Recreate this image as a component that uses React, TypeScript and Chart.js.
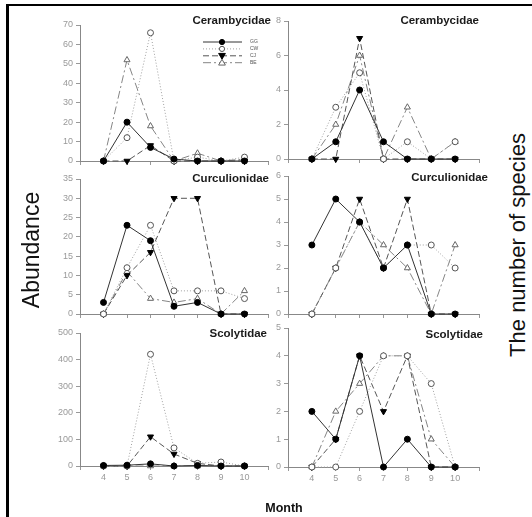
import React, { useEffect, useRef } from 'react';
import { Chart, registerables } from 'chart.js';
Chart.register(...registerables);

// ---------- data ----------
const months = [4, 5, 6, 7, 8, 9, 10];
const seriesNames = ['GG', 'CW', 'CJ', 'BE'];

// Abundance
const ceramAbGG = [0, 20, 7, 1, 0, 0, 0];
const ceramAbCW = [0, 12, 66, 0, 2, 0, 2];
const ceramAbCJ = [0, 0, 8, 0, 0, 0, 0];
const ceramAbBE = [0, 52, 18, 0, 4, 0, 1];

const curcAbGG = [3, 23, 19, 2, 3, 0, 0];
const curcAbCW = [0, 12, 23, 6, 6, 6, 4];
const curcAbCJ = [0, 10, 16, 30, 30, 0, 0];
const curcAbBE = [0, 11, 4, 3, 4, 0, 6];

const scolAbGG = [2, 3, 8, 0, 2, 0, 0];
const scolAbCW = [0, 0, 420, 68, 10, 15, 0];
const scolAbCJ = [0, 0, 110, 45, 10, 0, 0];
const scolAbBE = [0, 0, 0, 0, 0, 0, 0];

// Number of species
const ceramSpGG = [0, 1, 4, 1, 0, 0, 0];
const ceramSpCW = [0, 3, 5, 0, 1, 0, 1];
const ceramSpCJ = [0, 0, 7, 0, 0, 0, 0];
const ceramSpBE = [0, 2, 6, 0, 3, 0, 1];

const curcSpGG = [3, 5, 4, 2, 3, 0, 0];
const curcSpCW = [0, 2, 4, 2, 3, 3, 2];
const curcSpCJ = [0, 2, 5, 2, 5, 0, 0];
const curcSpBE = [0, 2, 4, 3, 2, 0, 3];

const scolSpGG = [2, 1, 4, 0, 1, 0, 0];
const scolSpCW = [0, 0, 2, 4, 4, 3, 0];
const scolSpCJ = [0, 1, 4, 2, 4, 0, 0];
const scolSpBE = [0, 2, 3, 4, 4, 1, 0];

// axis maxima / steps
const yMaxes = [70, 8, 35, 6, 500, 5];
const ySteps = [10, 2, 5, 1, 100, 1];
const xMin = 3;
const xMax = 11;

const titles = ['Cerambycidae', 'Cerambycidae', 'Curculionidae', 'Curculionidae', 'Scolytidae', 'Scolytidae'];

// ---------- layout ----------
const FONT = '"Liberation Sans", Arial, sans-serif';
const YW = 30;
const PT = 12;
const PR = 14;
const XH = 22;

const panelBoxes = [
  { x0: 80, x1: 268, y0: 25, y1: 161, tr: 271, ty: 21 },
  { x0: 288, x1: 479, y0: 21, y1: 159, tr: 479, ty: 21 },
  { x0: 80, x1: 268, y0: 179, y1: 314, tr: 269, ty: 179 },
  { x0: 288, x1: 479, y0: 176, y1: 314, tr: 488, ty: 178 },
  { x0: 80, x1: 268, y0: 333, y1: 466, tr: 267, ty: 334 },
  { x0: 288, x1: 479, y0: 328, y1: 467, tr: 483, ty: 335 },
];

const panelSeries = [
  [ceramAbGG, ceramAbCW, ceramAbCJ, ceramAbBE],
  [ceramSpGG, ceramSpCW, ceramSpCJ, ceramSpBE],
  [curcAbGG, curcAbCW, curcAbCJ, curcAbBE],
  [curcSpGG, curcSpCW, curcSpCJ, curcSpBE],
  [scolAbGG, scolAbCW, scolAbCJ, scolAbBE],
  [scolSpGG, scolSpCW, scolSpCJ, scolSpBE],
];

const styles = [
  { borderColor: '#333', borderDash: [] as number[], pointStyle: 'circle', pointRotation: 0, pointBackgroundColor: '#000', pointBorderColor: '#000', pointRadius: 3 },
  { borderColor: '#a0a0a0', borderDash: [1, 2], pointStyle: 'circle', pointRotation: 0, pointBackgroundColor: '#fff', pointBorderColor: '#555', pointRadius: 3 },
  { borderColor: '#555', borderDash: [6, 3], pointStyle: 'triangle', pointRotation: 180, pointBackgroundColor: '#000', pointBorderColor: '#000', pointRadius: 3.5 },
  { borderColor: '#858585', borderDash: [8, 3, 2, 3], pointStyle: 'triangle', pointRotation: 0, pointBackgroundColor: '#fff', pointBorderColor: '#666', pointRadius: 3.5 },
];

function drawMarker(ctx: CanvasRenderingContext2D, i: number, x: number, y: number, r: number) {
  const s = styles[i];
  ctx.save();
  ctx.setLineDash([]);
  ctx.lineWidth = 1;
  ctx.fillStyle = s.pointBackgroundColor;
  ctx.strokeStyle = s.pointBorderColor;
  ctx.beginPath();
  if (s.pointStyle === 'circle') {
    ctx.arc(x, y, r, 0, Math.PI * 2);
  } else {
    const h = r * 1.3;
    const dir = s.pointRotation === 180 ? -1 : 1;
    ctx.moveTo(x, y - dir * h);
    ctx.lineTo(x + h, y + dir * h * 0.7);
    ctx.lineTo(x - h, y + dir * h * 0.7);
    ctx.closePath();
  }
  ctx.fill();
  ctx.stroke();
  ctx.restore();
}

const legendPlugin = {
  id: 'lineLegend',
  afterDatasetsDraw(chart: any, _args: any, opts: any) {
    if (!opts || !opts.show) return;
    const ctx = chart.ctx as CanvasRenderingContext2D;
    const a = chart.chartArea;
    const lx0 = a.left + 123;
    const lx1 = a.left + 162;
    const mx = a.left + 142;
    const tx = a.left + 170;
    seriesNames.forEach((name, i) => {
      const y = a.top + 17 + i * 6.9;
      const s = styles[i];
      ctx.save();
      ctx.strokeStyle = s.borderColor;
      ctx.lineWidth = 1;
      ctx.setLineDash(s.borderDash);
      ctx.beginPath();
      ctx.moveTo(lx0, y);
      ctx.lineTo(lx1, y);
      ctx.stroke();
      ctx.restore();
      drawMarker(ctx, i, mx, y, 2.6);
      ctx.save();
      ctx.fillStyle = '#555';
      ctx.font = `5px ${FONT}`;
      ctx.textAlign = 'left';
      ctx.textBaseline = 'middle';
      ctx.fillText(name, tx, y);
      ctx.restore();
    });
  },
};

function PanelChart({ idx }: { idx: number }) {
  const ref = useRef<HTMLCanvasElement>(null);
  const b = panelBoxes[idx];
  const W = b.x1 - b.x0 + YW + PR;
  const H = b.y1 - b.y0 + PT + XH;
  const showX = idx >= 4;
  useEffect(() => {
    const datasets = panelSeries[idx].map((vals, i) => {
      const s = styles[i];
      return {
        label: seriesNames[i],
        data: months.map((m, k) => ({ x: m, y: vals[k] })),
        borderColor: s.borderColor,
        borderDash: s.borderDash,
        borderWidth: 1,
        tension: 0,
        fill: false,
        pointStyle: s.pointStyle as any,
        pointRotation: s.pointRotation,
        pointBackgroundColor: s.pointBackgroundColor,
        pointBorderColor: s.pointBorderColor,
        pointBorderWidth: 1,
        pointRadius: s.pointRadius,
        clip: false as any,
      };
    });
    const tickFont = { family: FONT, size: 9 };
    const chart = new Chart(ref.current!, {
      type: 'line',
      data: { datasets },
      plugins: [legendPlugin],
      options: {
        animation: false,
        responsive: false,
        devicePixelRatio: 1,
        layout: { padding: { top: PT, right: PR, left: 0, bottom: 0 } },
        plugins: {
          legend: { display: false },
          tooltip: { enabled: false },
          lineLegend: { show: idx === 0 },
        } as any,
        scales: {
          x: {
            type: 'linear',
            min: xMin,
            max: xMax,
            afterFit: (sc: any) => { sc.height = XH; },
            ticks: {
              stepSize: 1,
              autoSkip: false,
              maxRotation: 0,
              color: '#999',
              font: tickFont,
              padding: 2,
              callback: (v: any) => (showX && v >= 4 && v <= 10 ? String(v) : ''),
            },
            grid: { display: true, drawOnChartArea: false, drawTicks: true, tickLength: 4, color: '#999' },
            border: { display: true, color: '#888', width: 1 },
          },
          y: {
            type: 'linear',
            min: 0,
            max: yMaxes[idx],
            afterFit: (sc: any) => { sc.width = YW; },
            ticks: {
              stepSize: ySteps[idx],
              color: '#999',
              font: tickFont,
              padding: 3,
            },
            grid: { display: true, drawOnChartArea: false, drawTicks: true, tickLength: 4, color: '#999' },
            border: { display: true, color: '#888', width: 1 },
          },
        },
      },
    } as any);
    return () => chart.destroy();
  }, [idx]);
  return (
    <canvas
      ref={ref}
      width={W}
      height={H}
      style={{ position: 'absolute', left: b.x0 - YW, top: b.y0 - PT, width: W, height: H }}
    />
  );
}

export default function App() {
  return (
    <div style={{ position: 'absolute', left: 0, top: 0, width: 532, height: 517, background: '#fff', overflow: 'hidden', fontFamily: FONT }}>
      <div style={{ position: 'absolute', left: 6, top: 4, width: 540, height: 540, borderLeft: '3px solid #000', borderTop: '2px solid #000' }} />
      {panelBoxes.map((_, i) => (
        <PanelChart key={i} idx={i} />
      ))}
      {panelBoxes.map((b, i) => (
        <div
          key={'t' + i}
          style={{
            position: 'absolute',
            right: 532 - b.tr,
            top: b.ty,
            transform: 'translateY(-50%)',
            font: `bold 11.5px ${FONT}`,
            lineHeight: 1,
            color: '#1a1a1a',
            whiteSpace: 'nowrap',
          }}
        >
          {titles[i]}
        </div>
      ))}
      <div
        style={{
          position: 'absolute', left: 31, top: 250,
          transform: 'translate(-50%, -50%) rotate(-90deg)',
          fontSize: 23, lineHeight: 1, whiteSpace: 'nowrap', color: '#111',
        }}
      >
        Abundance
      </div>
      <div
        style={{
          position: 'absolute', left: 518, top: 245,
          transform: 'translate(-50%, -50%) rotate(-90deg)',
          fontSize: 22, lineHeight: 1, whiteSpace: 'nowrap', color: '#111',
        }}
      >
        The number of species
      </div>
      <div
        style={{
          position: 'absolute', left: 284, top: 508,
          transform: 'translate(-50%, -50%)',
          font: `bold 12.5px ${FONT}`, lineHeight: 1, whiteSpace: 'nowrap', color: '#111',
        }}
      >
        Month
      </div>
    </div>
  );
}
